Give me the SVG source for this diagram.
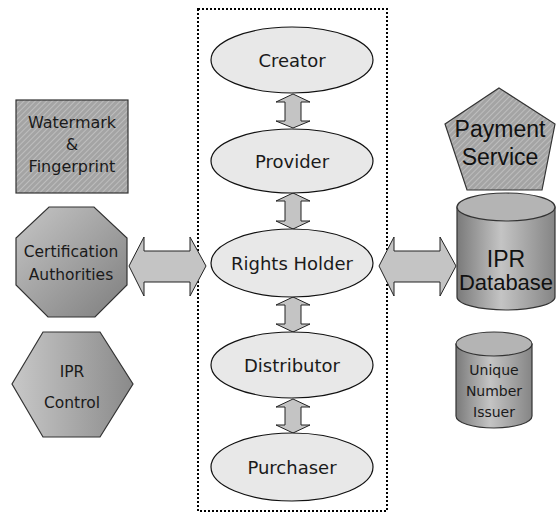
<svg xmlns="http://www.w3.org/2000/svg" width="557" height="516" viewBox="0 0 557 516">
<style>
.t{font-family:"DejaVu Sans",Verdana,sans-serif;fill:#1a1a1a;text-anchor:middle}
.a{font-family:"Liberation Sans",Arial,sans-serif;fill:#111;text-anchor:middle}
.ell{fill:#e8e8e8;stroke:#111;stroke-width:1.2}
.arr{fill:#c4c4c4;stroke:#222;stroke-width:1}
.shape{stroke:#333;stroke-width:1.2}
</style>
<defs>
<pattern id="hatch" width="4" height="4" patternUnits="userSpaceOnUse" patternTransform="rotate(-45)">
<rect width="4" height="4" fill="#a4a4a4"/>
<line x1="0" y1="0.5" x2="4" y2="0.5" stroke="#bdbdbd" stroke-width="1"/>
</pattern>
<linearGradient id="octG" x1="0" y1="0" x2="1" y2="1">
<stop offset="0" stop-color="#c6c6c6"/>
<stop offset="1" stop-color="#7e7e7e"/>
</linearGradient>
<linearGradient id="hexG" x1="0" y1="0" x2="1" y2="0">
<stop offset="0" stop-color="#c8c8c8"/>
<stop offset="1" stop-color="#8a8a8a"/>
</linearGradient>
<linearGradient id="cylG" x1="0" y1="0" x2="1" y2="0">
<stop offset="0" stop-color="#7a7a7a"/>
<stop offset="0.45" stop-color="#c4c4c4"/>
<stop offset="1" stop-color="#858585"/>
</linearGradient>
</defs>

<rect x="198" y="9" width="189" height="502" fill="none" stroke="#000" stroke-width="2" stroke-dasharray="2,2"/>

<g id="connectors">
<path class="arr" d="M293,94 L310,102 L301,102 L301,121 L310,121 L293,128 L276,121 L285,121 L285,102 L276,102 Z"/>
<path class="arr" d="M293,193 L310,201 L301,201 L301,221 L310,221 L293,229 L276,221 L285,221 L285,201 L276,201 Z"/>
<path class="arr" d="M293,297 L310,305 L301,305 L301,324 L310,324 L293,332 L276,324 L285,324 L285,305 L276,305 Z"/>
<path class="arr" d="M293,399 L310,407 L301,407 L301,425 L310,425 L293,433 L276,425 L285,425 L285,407 L276,407 Z"/>
<path class="arr" d="M129,266 L144,237 L144,251 L190,251 L190,237 L206,266 L190,296 L190,282 L144,282 L144,296 Z"/>
<path class="arr" d="M379,266 L394,237 L394,251 L440,251 L440,237 L456,266 L440,296 L440,282 L394,282 L394,296 Z"/>
</g>

<g id="creator"><ellipse class="ell" cx="292" cy="60" rx="81" ry="33"/><text class="t" x="292" y="67" font-size="18">Creator</text></g>
<g id="provider"><ellipse class="ell" cx="292" cy="161" rx="81" ry="32"/><text class="t" x="292" y="168" font-size="18">Provider</text></g>
<g id="rights-holder"><ellipse class="ell" cx="292" cy="263" rx="81" ry="34"/><text class="t" x="292" y="270" font-size="18">Rights Holder</text></g>
<g id="distributor"><ellipse class="ell" cx="292" cy="365" rx="81" ry="33"/><text class="t" x="292" y="372" font-size="18">Distributor</text></g>
<g id="purchaser"><ellipse class="ell" cx="292" cy="467" rx="81" ry="34"/><text class="t" x="292" y="474" font-size="18">Purchaser</text></g>

<g id="watermark">
<rect class="shape" x="16" y="100" width="112" height="93" fill="url(#hatch)"/>
<text class="t" x="72" y="128" font-size="16">Watermark</text>
<text class="t" x="72" y="150" font-size="16">&amp;</text>
<text class="t" x="72" y="172" font-size="16">Fingerprint</text>
</g>

<g id="certification">
<polygon class="shape" points="49,207 94,207 127,238 127,285 95,317 48,317 16,285 16,238" fill="url(#octG)"/>
<text class="t" x="71" y="257" font-size="15.5">Certification</text>
<text class="t" x="71" y="280" font-size="15.5">Authorities</text>
</g>

<g id="ipr-control">
<polygon class="shape" points="43,332 100,332 133,384 100,437 43,437 12,384" fill="url(#hexG)"/>
<text class="t" x="72" y="377" font-size="15.5">IPR</text>
<text class="t" x="72" y="408" font-size="15.5">Control</text>
</g>

<g id="payment">
<polygon class="shape" points="499,88 555,124 542,190 467,190 445,124" fill="url(#hatch)"/>
<text class="a" x="500" y="137" font-size="23">Payment</text>
<text class="a" x="500" y="165" font-size="23">Service</text>
</g>

<g id="ipr-database">
<path class="shape" d="M457,207 L457,297 A49,13 0 0 0 555,297 L555,207 Z" fill="url(#cylG)"/>
<ellipse class="shape" cx="506" cy="207" rx="49" ry="14" fill="#b4b4b4"/>
<text class="a" x="506" y="267" font-size="23">IPR</text>
<text class="a" x="506" y="290" font-size="22">Database</text>
</g>

<g id="unique-number">
<path class="shape" d="M456,344 L456,416 A38,12 0 0 0 532,416 L532,344 Z" fill="url(#cylG)"/>
<ellipse class="shape" cx="494" cy="344" rx="38" ry="12" fill="#b4b4b4"/>
<text class="t" x="494" y="375" font-size="14">Unique</text>
<text class="t" x="494" y="396" font-size="14">Number</text>
<text class="t" x="494" y="417" font-size="14">Issuer</text>
</g>
</svg>
